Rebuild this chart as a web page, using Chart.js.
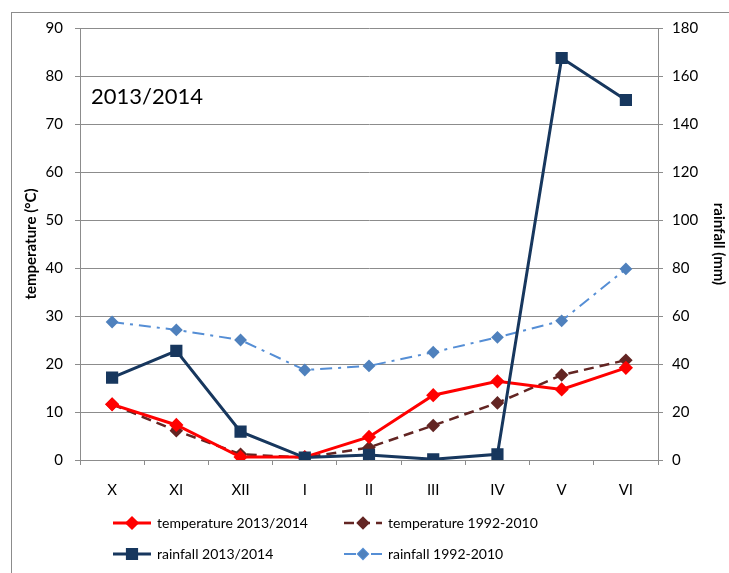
<!DOCTYPE html>
<html>
<head>
<meta charset="utf-8">
<script src="https://cdn.jsdelivr.net/npm/chart.js@4"></script>
<style>
    body { margin: 0; background: #fff; overflow: hidden; }
    #frame { position: absolute; left: 11px; top: 12px; width: 760px; height: 620px; border: 1px solid #8c8c8c; }
    #chart { position: absolute; left: 0; top: 0; }
</style>
</head>
<body>
<div id="frame"></div>
<canvas id="chart" width="729" height="573"></canvas>
<script>
// Months, October to June
const months = ['X', 'XI', 'XII', 'I', 'II', 'III', 'IV', 'V', 'VI'];

// Temperature (°C), left axis
const temp2013 = [11.6, 7.3, 0.6, 0.6, 4.8, 13.5, 16.4, 14.7, 19.2];
const temp1992 = [11.6, 6.1, 1.2, 0.5, 2.6, 7.2, 11.9, 17.7, 20.8];

// Rainfall (mm), right axis
const rain2013 = [34.3, 45.5, 11.8, 1.0, 2.1, 0.3, 2.4, 167.5, 150];
const rain1992 = [57.5, 54.2, 50, 37.5, 39.2, 44.9, 51.1, 58, 79.6];

const FONT = 'Lato, "Open Sans", sans-serif';
const GRID = '#8c8c8c';

// Big season label inside the plot
const seasonLabel = {
    id: 'seasonLabel',
    afterDraw(chart) {
        const ctx = chart.ctx;
        ctx.save();
        ctx.font = '22px ' + FONT;
        ctx.fillStyle = '#000';
        ctx.textBaseline = 'alphabetic';
        ctx.fillText('2013/2014', chart.chartArea.left + 11, 104);
        ctx.restore();
    }
};

// Two-column legend under the chart
const gridLegend = {
    id: 'gridLegend',
    afterDraw(chart) {
        const ctx = chart.ctx;
        const spots = [[113, 523], [344, 523], [113, 554], [344, 554]];
        const sets = chart.data.datasets;
        ctx.save();
        sets.forEach((ds, i) => {
            const [x, y] = spots[i];
            ctx.strokeStyle = ds.borderColor;
            ctx.lineWidth = ds.borderWidth;
            ctx.setLineDash(ds.borderDash || []);
            ctx.beginPath();
            ctx.moveTo(x, y);
            ctx.lineTo(x + 38, y);
            ctx.stroke();
            ctx.setLineDash([]);
            Chart.helpers.drawPoint(ctx, {
                pointStyle: ds.pointStyle,
                radius: ds.pointRadius,
                borderWidth: 1
            }, x + 19, y);
            ctx.fillStyle = ds.pointBackgroundColor;
            ctx.fill();
            ctx.fillStyle = '#000';
            ctx.font = '14px ' + FONT;
            ctx.textBaseline = 'middle';
            ctx.fillText(ds.label, x + 44, y);
        });
        ctx.restore();
    }
};

const ctx = document.getElementById('chart').getContext('2d');

new Chart(ctx, {
    type: 'line',
    data: {
        labels: months,
        datasets: [
            {
                label: 'temperature 2013/2014',
                data: temp2013,
                yAxisID: 'yTemp',
                borderColor: '#ff0000',
                borderWidth: 3,
                pointStyle: 'rectRot',
                pointRadius: 5,
                pointBackgroundColor: '#ff0000',
                pointBorderColor: '#ff0000',
                order: 2
            },
            {
                label: 'temperature 1992-2010',
                data: temp1992,
                yAxisID: 'yTemp',
                borderColor: '#632523',
                borderWidth: 2.5,
                borderDash: [10, 6],
                pointStyle: 'rectRot',
                pointRadius: 5,
                pointBackgroundColor: '#632523',
                pointBorderColor: '#632523',
                order: 3
            },
            {
                label: 'rainfall 2013/2014',
                data: rain2013,
                yAxisID: 'yRain',
                borderColor: '#17375e',
                borderWidth: 3,
                pointStyle: 'rect',
                pointRadius: 6.5,
                pointBackgroundColor: '#17375e',
                pointBorderColor: '#17375e',
                order: 1
            },
            {
                label: 'rainfall 1992-2010',
                data: rain1992,
                yAxisID: 'yRain',
                borderColor: '#558ed5',
                borderWidth: 2,
                borderDash: [12, 6, 3, 6],
                pointStyle: 'rectRot',
                pointRadius: 5,
                pointBackgroundColor: '#4f81bd',
                pointBorderColor: '#4f81bd',
                order: 4
            }
        ]
    },
    options: {
        responsive: false,
        animation: false,
        layout: { padding: { top: 28, left: 0, right: 0, bottom: 0 } },
        elements: { line: { tension: 0 } },
        plugins: {
            legend: { display: false },
            tooltip: { enabled: false }
        },
        scales: {
            x: {
                offset: true,
                grid: { offset: true, drawOnChartArea: false, tickLength: 5, color: GRID },
                border: { color: GRID },
                ticks: { color: '#000', font: { family: FONT, size: 15 }, padding: 16 },
                afterFit(scale) { scale.height = 113; }
            },
            yTemp: {
                position: 'left',
                min: 0,
                max: 90,
                ticks: { stepSize: 10, color: '#000', font: { family: FONT, size: 15 }, padding: 12 },
                grid: { color: GRID, tickLength: 5 },
                border: { color: GRID },
                title: {
                    display: true,
                    text: 'temperature (°C)',
                    color: '#000',
                    font: { family: FONT, size: 15, weight: 'bold' },
                    padding: { top: 22 }
                },
                afterFit(scale) { scale.width = 80; }
            },
            yRain: {
                position: 'right',
                min: 0,
                max: 180,
                ticks: { stepSize: 20, color: '#000', font: { family: FONT, size: 15 }, padding: 9 },
                grid: { drawOnChartArea: false, color: GRID, tickLength: 5 },
                border: { color: GRID },
                title: {
                    display: true,
                    text: 'rainfall (mm)',
                    color: '#000',
                    font: { family: FONT, size: 15, weight: 'bold' },
                    padding: { top: 1 }
                },
                afterFit(scale) { scale.width = 71; }
            }
        }
    },
    plugins: [seasonLabel, gridLegend]
});
</script>
</body>
</html>
